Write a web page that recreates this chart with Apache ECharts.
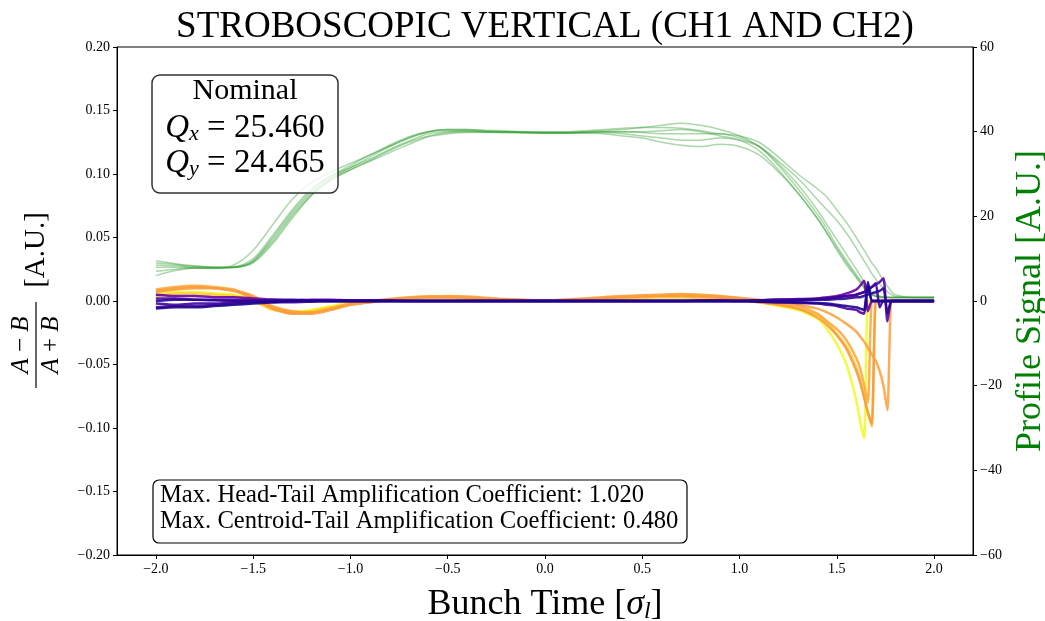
<!DOCTYPE html>
<html><head><meta charset="utf-8">
<script src="https://cdn.jsdelivr.net/npm/echarts@6/dist/echarts.min.js"></script>
<style>html,body{margin:0;padding:0;background:#fff}#c{width:1045px;height:621px}</style>
</head><body><div id="c"></div>
<script>
// time grid [sigma_l]
const T = [-2.0,-1.9,-1.8,-1.7,-1.6,-1.5,-1.4,-1.3,-1.2,-1.1,-1.0,-0.9,-0.8,-0.7,-0.6,-0.5,-0.4,-0.3,-0.2,-0.1,0.0,0.1,0.2,0.3,0.4,0.5,0.6,0.7,0.8,0.9,1.0,1.1,1.2,1.3,1.4,1.45,1.5,1.55,1.6,1.62,1.64,1.66,1.68,1.70,1.72,1.74,1.76,1.78,1.8,1.9,2.0];
const xTicks = [-2.0,-1.5,-1.0,-0.5,0.0,0.5,1.0,1.5,2.0];

// profile signal traces (right axis, A.U.)
const G1 = [8.5,8.3,8.0,7.9,8.0,10.0,15.5,21.5,26.5,29.5,31.5,33.5,35.8,37.8,39.5,40.0,40.2,40.0,40.0,39.8,39.7,39.7,39.8,40.0,40.0,39.8,39.5,39.5,39.5,39.5,38.5,36.5,32.0,26.5,20.5,17.0,13.0,9.5,6.2,5.0,3.5,2.4,1.6,1.2,1.0,0.9,0.8,0.8,0.8,0.8,0.8];
const G2 = [9.0,8.6,8.2,8.0,8.1,9.5,14.5,20.5,25.5,29.0,31.5,34.0,36.5,38.5,40.0,40.5,40.5,40.2,40.0,40.0,39.8,39.8,40.0,40.2,40.5,41.0,41.5,42.0,41.5,40.5,39.0,36.5,32.5,27.5,21.5,18.0,14.5,11.0,7.5,6.0,4.6,3.3,2.3,1.6,1.2,1.0,0.9,0.8,0.8,0.8,0.8];
const G3 = [6.0,7.2,7.8,7.8,7.9,9.0,13.5,19.5,25.0,28.5,31.0,33.0,35.0,37.0,38.8,39.5,39.8,39.8,39.8,39.7,39.6,39.6,39.6,39.5,39.0,38.5,37.5,36.8,36.5,37.0,36.5,34.5,30.5,25.5,19.5,16.0,12.5,9.0,5.8,4.6,3.3,2.2,1.5,1.1,0.9,0.8,0.8,0.8,0.8,0.8,0.8];
const G4 = [7.0,7.5,7.8,7.8,7.9,9.5,15.0,21.0,26.0,29.5,32.0,34.5,36.5,38.5,40.0,40.5,40.5,40.3,40.2,40.0,40.0,40.0,40.2,40.5,40.8,41.0,41.0,40.8,40.2,39.5,39.0,37.5,34.0,30.0,26.5,24.5,21.5,18.5,15.0,13.5,12.0,10.5,9.0,7.8,6.3,4.8,3.5,2.3,1.5,0.8,0.8];
const G5 = [8.0,8.0,7.8,7.7,8.5,12.0,18.0,24.0,28.0,30.5,32.5,34.5,36.8,38.8,40.0,40.3,40.2,40.0,39.8,39.8,39.8,39.8,39.9,40.0,40.0,40.0,40.2,40.5,40.0,39.0,38.0,35.5,31.0,25.5,19.5,16.0,12.0,8.5,5.5,4.2,3.0,2.0,1.4,1.1,0.9,0.8,0.8,0.8,0.8,0.8,0.8];
const G6 = [9.5,8.8,8.3,8.0,8.0,9.2,14.0,20.0,25.0,28.8,31.0,33.2,35.5,37.5,39.0,39.8,40.0,40.0,39.9,39.8,39.7,39.7,39.8,39.8,39.5,39.0,38.5,38.0,38.0,38.5,38.0,36.5,33.0,29.0,24.0,21.5,19.0,16.0,12.5,11.0,9.5,8.0,6.5,5.2,4.0,3.0,2.2,1.5,1.1,0.8,0.8];

// (A-B)/(A+B) traces (left axis)
const Y1 = [0.006,0.007,0.007,0.006,0.005,0.001,-0.006,-0.008,-0.007,-0.004,-0.001,0.0,0.001,0.002,0.003,0.003,0.002,0.0015,0.001,0.0005,0.0005,0.0005,0.001,0.002,0.0025,0.003,0.003,0.003,0.003,0.002,0.001,-0.001,-0.004,-0.007,-0.014,-0.022,-0.034,-0.050,-0.078,-0.095,-0.108,0,0,0,0,0,0,0,0,0,0];
const Y2 = [0.004,0.006,0.006,0.005,0.004,0.0,-0.007,-0.009,-0.008,-0.005,-0.002,0.0,0.001,0.002,0.0025,0.0025,0.002,0.001,0.0005,0.0,0.0,0.0005,0.001,0.0015,0.002,0.0025,0.003,0.003,0.0025,0.0015,0.0005,-0.001,-0.003,-0.006,-0.011,-0.017,-0.026,-0.036,-0.052,-0.062,-0.075,-0.088,-0.099,0,0,0,0,0,0,0,0];
const O1 = [0.009,0.011,0.012,0.011,0.009,0.003,-0.005,-0.009,-0.009,-0.006,-0.002,0.0,0.0015,0.003,0.0035,0.0035,0.003,0.002,0.001,0.0005,0.0005,0.001,0.0015,0.0025,0.0035,0.004,0.0045,0.005,0.0045,0.0035,0.002,0.0,-0.002,-0.004,-0.010,-0.016,-0.022,-0.031,-0.045,-0.053,-0.066,-0.080,0,0,0,0,0,0,0,0,0];
const O2 = [0.007,0.009,0.010,0.010,0.008,0.002,-0.006,-0.010,-0.010,-0.007,-0.003,-0.001,0.001,0.002,0.003,0.003,0.0025,0.0015,0.001,0.0005,0.0,0.0005,0.001,0.002,0.003,0.0035,0.004,0.004,0.0035,0.0025,0.001,-0.001,-0.003,-0.006,-0.013,-0.019,-0.027,-0.038,-0.055,-0.064,-0.076,-0.088,-0.097,0,0,0,0,0,0,0,0];
const O3 = [0.008,0.010,0.011,0.010,0.008,0.004,-0.004,-0.008,-0.009,-0.006,-0.003,-0.001,0.001,0.0025,0.0035,0.004,0.0035,0.0025,0.0015,0.001,0.0005,0.001,0.002,0.003,0.004,0.0045,0.005,0.0055,0.005,0.004,0.0025,0.001,-0.001,-0.003,-0.006,-0.009,-0.013,-0.018,-0.024,-0.028,-0.032,-0.037,-0.042,-0.047,-0.055,-0.067,-0.086,0,0,0,0];
const P1 = [0.005,0.004,0.004,0.003,0.003,0.002,0.001,0.0005,0.001,0.001,0.0005,0.0005,0.0005,0,0,0,0,0,0,0,0,0,0,0,0,0,0,0,0.0005,0.0005,0,0.0005,0.001,0.0015,0.002,0.003,0.004,0.006,0.009,0.012,0.016,-0.008,0,0,0,0,0,0,0,0,0];
const P2 = [-0.005,-0.004,-0.004,-0.003,-0.002,-0.001,0,0.0005,0.0005,0,0,0,0,0,0,0,0,0,0,0,0,0,0,0,0,0,0,0,0,0,0,0.0005,0.001,0.001,0.0015,0.002,0.003,0.004,0.005,0.006,0.007,0.009,0.011,0.013,0.015,0.018,-0.016,0,0,0,0];
const P3 = [0.002,0.002,0.001,0.001,0.001,0.0005,-0.001,-0.001,-0.0005,0,0,0,0,0,0,0,0,0,0,0,0,0,0,0,0,0,0,0,0,0,0,-0.0005,-0.001,-0.0015,-0.002,-0.003,-0.004,-0.006,-0.007,-0.009,-0.010,0.012,0,0,0,0,0,0,0,0,0];
const P4 = [-0.002,-0.003,-0.002,-0.002,-0.001,0,0.001,0.001,0.0005,0,0,0,0,0,0,0,0,0,0,0,0,0,0,0,0,0,0,0,0,0,0,0.0005,0.001,0.001,0.0015,0.002,0.003,0.004,0.005,0.006,0.007,0.009,0.011,0.014,-0.005,0,0,0,0,0,0];
const P5 = [0.0,0.001,0.001,0.0005,0,0,0,0,0,0,0,0,0,0,0,0,0,0,0,0,0,0,0,0,0,0,0,0,0,0,0,0,0,0.0005,0.001,0.001,0.0015,0.002,0.003,0.003,0.004,0.005,0.006,0.007,0.008,0.010,-0.010,0,0,0,0];
const P6 = [-0.006,-0.005,-0.005,-0.004,-0.003,-0.002,-0.001,0,0,0,0,0,0,0,0,0,0,0,0,0,0,0,0,0,0,0,0,0,0,0,0,-0.0005,-0.001,-0.001,-0.0015,-0.002,-0.003,-0.004,-0.005,-0.006,-0.007,0.015,0,0,0,0,0,0,0,0,0];

const greenTraces = [G1,G2,G3,G4,G5,G6];
const signalTraces = [Y1,Y2,O1,O2,O3];
const signalColors = ['#f0f921','#fcce25','#fca636','#f89540','#fb9f3a'];
const purpleTraces = [P1,P2,P3,P4,P5,P6];
const purpleColors = ['#6a00a8','#5402a3','#4c02a1','#3e049c','#2a0593','#1a068f'];

const serif = 'Liberation Serif, DejaVu Serif, serif';
const fmtMinus = (v, d) => (v < 0 ? '\u2212' : '') + Math.abs(v).toFixed(d);
const pts = arr => T.map((t, i) => [t, arr[i]]);

const series = [];
greenTraces.forEach(g => series.push({type:'line', yAxisIndex:1, data:pts(g), showSymbol:false, smooth:0.3,
  lineStyle:{color:'#2e9a2e', width:1.5, opacity:0.4}, z:1}));
signalTraces.forEach((s, k) => series.push({type:'line', yAxisIndex:0, data:pts(s), showSymbol:false, smooth:0.2,
  lineStyle:{color:signalColors[k], width:2.5, opacity:0.85}, z:2}));
purpleTraces.forEach((s, k) => series.push({type:'line', yAxisIndex:0, data:pts(s), showSymbol:false, smooth:0.2,
  lineStyle:{color:purpleColors[k], width:2.5, opacity:0.9}, z:3}));

const tickFont = 14;
const chart = echarts.init(document.getElementById('c'), null, {renderer:'canvas'});
chart.setOption({
  animation:false,
  backgroundColor:'#fff',
  grid:{left:117, right:72, top:47, bottom:66, containLabel:false, outerBoundsMode:'none',
    show:true, borderColor:'#000', borderWidth:1, backgroundColor:'transparent'},
  xAxis:{type:'value', min:-2.2, max:2.2,
    axisLine:{onZero:false, lineStyle:{color:'#000', width:1}},
    axisTick:{customValues:xTicks, length:4, lineStyle:{color:'#000'}},
    axisLabel:{customValues:xTicks, formatter:v=>fmtMinus(v,1), color:'#000', fontFamily:serif, fontSize:tickFont, margin:7},
    splitLine:{show:false},
    name:'{n|Bunch Time [}{s|\u03c3}{sub|l}{n|]}', nameLocation:'middle', nameGap:31,
    nameTextStyle:{rich:{
      n:{fontFamily:serif, fontSize:36, color:'#000'},
      s:{fontFamily:serif, fontSize:36, fontStyle:'italic', color:'#000'},
      sub:{fontFamily:serif, fontSize:24, fontStyle:'italic', color:'#000', padding:[14,0,0,0]}
    }}
  },
  yAxis:[
    {type:'value', min:-0.2, max:0.2, interval:0.05, position:'left',
      axisLine:{show:true, onZero:false, lineStyle:{color:'#000'}},
      axisTick:{show:true, length:4, lineStyle:{color:'#000'}},
      axisLabel:{formatter:v=>fmtMinus(v,2), color:'#000', fontFamily:serif, fontSize:tickFont, margin:7},
      splitLine:{show:false}},
    {type:'value', min:-60, max:60, interval:20, position:'right',
      axisLine:{show:true, onZero:false, lineStyle:{color:'#000'}},
      axisTick:{show:true, length:4, lineStyle:{color:'#000'}},
      axisLabel:{formatter:v=>fmtMinus(v,0), color:'#000', fontFamily:serif, fontSize:tickFont, margin:7},
      splitLine:{show:false},
      name:'Profile Signal [A.U.]', nameLocation:'middle', nameRotate:90, nameGap:40,
      nameTextStyle:{color:'#008000', fontFamily:serif, fontSize:36}}
  ],
  series:series,
  graphic:[
    {type:'text', x:545, y:27, z:10, style:{text:'STROBOSCOPIC VERTICAL (CH1 AND CH2)', font:'37px '+serif, fill:'#000', align:'center', verticalAlign:'middle', textAlign:'center', textVerticalAlign:'middle'}},
    {type:'group', x:36, y:300, rotation:Math.PI/2, z:10, children:[
      {type:'text', x:-45, y:-15, style:{text:'{i|A}{o| \u2212 }{i|B}', align:'center', verticalAlign:'middle', textAlign:'center', textVerticalAlign:'middle',
        rich:{i:{fontFamily:serif, fontSize:25, fontStyle:'italic', fill:'#000'}, o:{fontFamily:serif, fontSize:25, fill:'#000'}}}},
      {type:'line', shape:{x1:-88, y1:0, x2:-2, y2:0}, style:{stroke:'#000', lineWidth:1.2}},
      {type:'text', x:-45, y:15, style:{text:'{i|A}{o| + }{i|B}', align:'center', verticalAlign:'middle', textAlign:'center', textVerticalAlign:'middle',
        rich:{i:{fontFamily:serif, fontSize:25, fontStyle:'italic', fill:'#000'}, o:{fontFamily:serif, fontSize:25, fill:'#000'}}}},
      {type:'text', x:50, y:0, style:{text:'[A.U.]', font:'29px '+serif, fill:'#000', align:'center', verticalAlign:'middle', textAlign:'center', textVerticalAlign:'middle'}}
    ]},
    {type:'rect', z:20, shape:{x:152, y:75, width:186, height:118, r:8}, style:{fill:'rgba(255,255,255,0.8)', stroke:'#333', lineWidth:1.5}},
    {type:'text', z:21, x:245, y:91, style:{text:'Nominal', font:'30px '+serif, fill:'#000', align:'center', verticalAlign:'middle', textAlign:'center', textVerticalAlign:'middle'}},
    {type:'text', z:21, x:245, y:128, style:{text:'{q|Q}{s|x}{e| = 25.460}', align:'center', verticalAlign:'middle', textAlign:'center', textVerticalAlign:'middle',
      rich:{q:{fontFamily:serif, fontSize:33, fontStyle:'italic', fill:'#000'}, s:{fontFamily:serif, fontSize:22, fontStyle:'italic', fill:'#000', padding:[12,0,0,0]}, e:{fontFamily:serif, fontSize:33, fill:'#000'}}}},
    {type:'text', z:21, x:245, y:163, style:{text:'{q|Q}{s|y}{e| = 24.465}', align:'center', verticalAlign:'middle', textAlign:'center', textVerticalAlign:'middle',
      rich:{q:{fontFamily:serif, fontSize:33, fontStyle:'italic', fill:'#000'}, s:{fontFamily:serif, fontSize:22, fontStyle:'italic', fill:'#000', padding:[12,0,0,0]}, e:{fontFamily:serif, fontSize:33, fill:'#000'}}}},
    {type:'rect', z:20, shape:{x:153, y:480, width:534, height:63, r:6}, style:{fill:'rgba(255,255,255,0.8)', stroke:'#000', lineWidth:1.2}},
    {type:'text', z:21, x:160, y:496, style:{text:'Max. Head-Tail Amplification Coefficient: 1.020', font:'24.6px '+serif, fill:'#000', align:'left', verticalAlign:'middle', textAlign:'left', textVerticalAlign:'middle'}},
    {type:'text', z:21, x:160, y:522, style:{text:'Max. Centroid-Tail Amplification Coefficient: 0.480', font:'24.6px '+serif, fill:'#000', align:'left', verticalAlign:'middle', textAlign:'left', textVerticalAlign:'middle'}}
  ]
});
</script></body></html>
